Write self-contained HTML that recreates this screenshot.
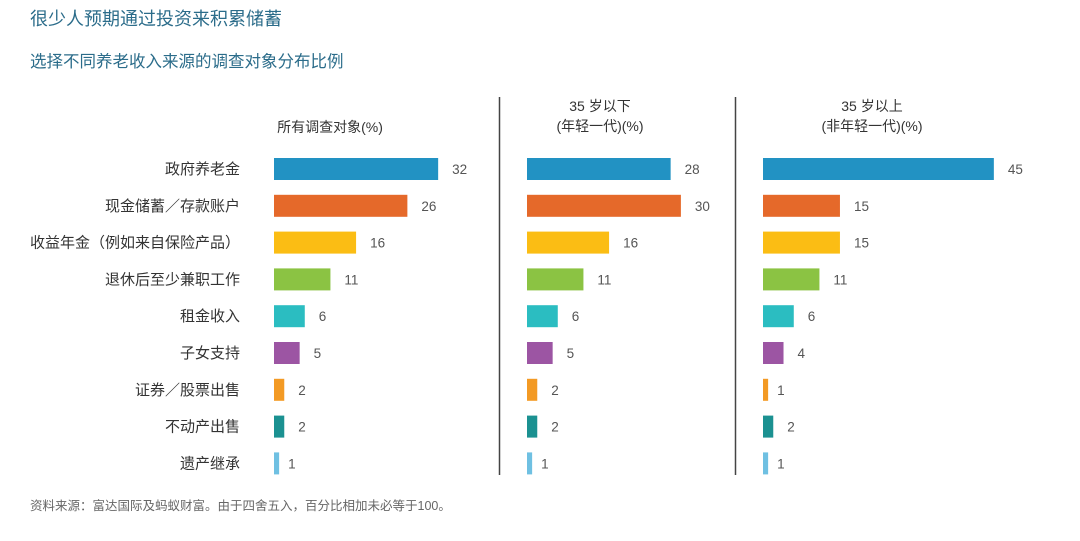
<!DOCTYPE html>
<html><head><meta charset="utf-8"><style>
body{margin:0;background:#fff;width:1080px;height:536px;overflow:hidden;font-family:"Liberation Sans","Noto Sans CJK SC",sans-serif}
svg text{font-family:"Liberation Sans","Noto Sans CJK SC",sans-serif}
</style></head><body>
<svg id="c" width="1080" height="536">
<text x="30" y="25" font-size="18" fill="#2b6c8a">很少人预期通过投资来积累储蓄</text>
<text x="30" y="67" font-size="16.5" fill="#2b6c8a">选择不同养老收入来源的调查对象分布比例</text>
<text x="30" y="510" font-size="12.5" fill="#666">资料来源：富达国际及蚂蚁财富。由于四舍五入，百分比相加未必等于100。</text>
<line x1="499.5" y1="97" x2="499.5" y2="475" stroke="#444" stroke-width="1.5"/>
<line x1="735.5" y1="97" x2="735.5" y2="475" stroke="#444" stroke-width="1.5"/>
</svg>
<script>
const categories=["政府养老金","现金储蓄／存款账户","收益年金（例如来自保险产品）","退休后至少兼职工作","租金收入","子女支持","证券／股票出售","不动产出售","遗产继承"];
const allValues=[32,26,16,11,6,5,2,2,1];
const youngValues=[28,30,16,11,6,5,2,2,1];
const olderValues=[45,15,15,11,6,4,1,2,1];
const colors=["#2292c3","#e5692a","#fbbd14","#8bc343","#2bbdc1","#9c55a3","#f39a24","#1b9191","#6fc0e2"];
const svg=document.getElementById('c');
const NS='http://www.w3.org/2000/svg';
const pxPerUnit=5.13;
function y(i){return 158+i*36.8;}
function mk(tag,attrs,txt){const e=document.createElementNS(NS,tag);for(const k in attrs)e.setAttribute(k,attrs[k]);if(txt!==undefined)e.textContent=txt;svg.appendChild(e);return e;}
categories.forEach((c,i)=>{
  const t=mk('text',{x:240,y:y(i)+16,'font-size':15,fill:'#333','text-anchor':'end'},c);
  
  
});
const panels=[{x0:274,vals:allValues,h:["所有调查对象(%)"],hx:330},{x0:527,vals:youngValues,h:["35 岁以下","(年轻一代)(%)"],hx:600},{x0:763,vals:olderValues,h:["35 岁以上","(非年轻一代)(%)"],hx:872}];
panels.forEach((p,pi)=>{
  p.h.forEach((ln,li)=>{
    const t=mk('text',{x:p.hx,y:(p.h.length==1?132:111+li*20),'font-size':14,fill:'#333','text-anchor':'middle'},ln);
    
    
  });
  p.vals.forEach((v,i)=>{
    const w=v*pxPerUnit;
    const r=mk('rect',{x:p.x0,y:y(i),width:w,height:22,fill:colors[i]});
    
    
    const t=mk('text',{x:p.x0+w+(v<2?9:14),y:y(i)+16,'font-size':13.5,fill:'#555'},v);
    
    
  });
});
</script>
</body></html>
